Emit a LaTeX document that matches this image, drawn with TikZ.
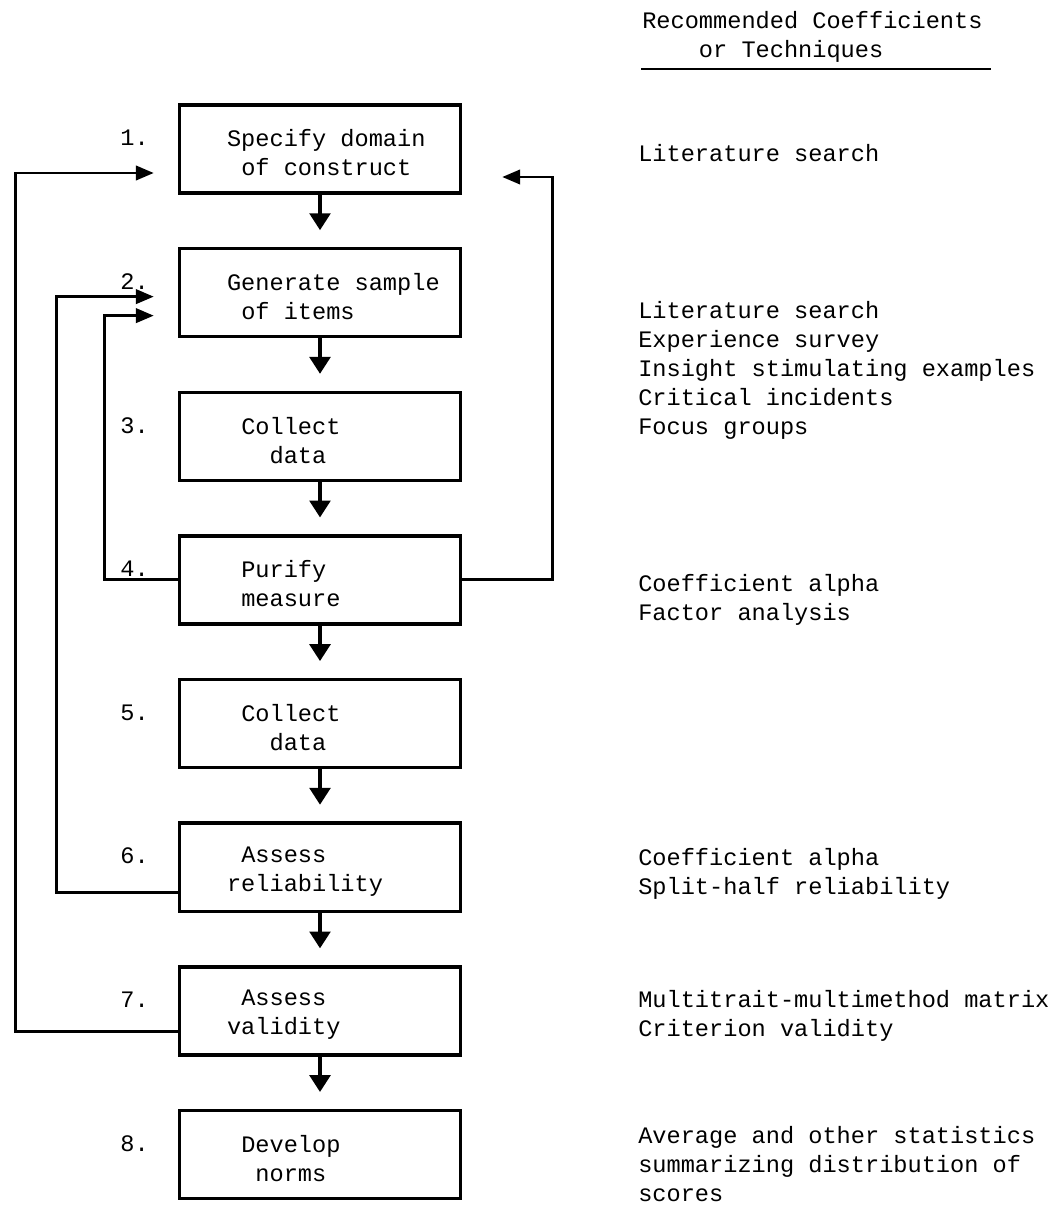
\documentclass[tikz,border=0pt]{standalone}
\usepackage{fontspec}
\setmonofont{Liberation Mono}
\usetikzlibrary{arrows.meta,calc}

\newcommand{\typefont}{\ttfamily\fontsize{16.8}{20.6}\selectfont}
\newcommand{\ind}{\hphantom{x}}

\tikzset{
  stepbox/.style={draw, line width=2.4pt, minimum width=7.025cm, minimum height=2.2cm, inner sep=0pt},
  steptext/.style={font=\typefont, align=left, anchor=west, inner sep=0pt, xshift=1.225cm, yshift=-0.1cm},
  stepnum/.style={font=\typefont, anchor=east, inner sep=0pt, xshift=-0.72cm, yshift=0.275cm},
  techtext/.style={font=\typefont, align=left, anchor=west, inner sep=0pt},
  flow/.style={line width=2.2pt, -{Triangle[width=0.52cm,length=0.42cm]}, shorten >=0.42cm},
  fbline/.style={line width=2.1pt, -{Triangle[width=0.36cm,length=0.45cm]}}
}

\begin{document}
\begin{tikzpicture}[x=0.025cm, y=-0.025cm, node distance=3.59cm]
  \useasboundingbox (0,0) rectangle (1053,1208);

  % the eight steps
  \node [stepbox] (b1) at (320,149) {};
  \node [stepbox, below of=b1] (b2) {};
  \node [stepbox, below of=b2] (b3) {};
  \node [stepbox, below of=b3] (b4) {};
  \node [stepbox, below of=b4] (b5) {};
  \node [stepbox, below of=b5] (b6) {};
  \node [stepbox, below of=b6] (b7) {};
  \node [stepbox, below of=b7] (b8) {};

  \node [steptext] (t1) at (b1.west) {Specify domain\\\ind of construct};
  \node [steptext] (t2) at (b2.west) {Generate sample\\\ind of items};
  \node [steptext] (t3) at (b3.west) {\ind Collect\\\ind\ind\ind data};
  \node [steptext] (t4) at (b4.west) {\ind Purify\\\ind measure};
  \node [steptext] (t5) at (b5.west) {\ind Collect\\\ind\ind\ind data};
  \node [steptext] (t6) at (b6.west) {\ind Assess\\reliability};
  \node [steptext] (t7) at (b7.west) {\ind Assess\\validity};
  \node [steptext] (t8) at (b8.west) {\ind Develop\\\ind\ind norms};

  \foreach \i in {1,...,8}
    \node [stepnum] (n\i) at (b\i.west) {\i.};

  \foreach \a/\b in {b1/b2,b2/b3,b3/b4,b4/b5,b5/b6,b6/b7,b7/b8}
    \draw [flow] (\a) -- (\b);

  % loops back
  \draw [fbline] ($(b7.west)+(0,21)$) -- ++(-162,0) |- ($(b1.west)+(-24,24)$);
  \draw [fbline] ($(b6.west)+(0,25)$) -- ++(-121,0) |- ($(b2.west)+(-24,4)$);
  \draw [fbline] (b4.west) -- ++(-73,0) |- ($(b2.west)+(-24,23)$);
  \draw [fbline] (b4.east) -- ++(90,0) |- ($(b1.east)+(40,28)$);

  % right column
  \node [techtext] (hdr) at (642,37) {Recommended Coefficients\\\ind\ind\ind\ind or Techniques};
  \draw [line width=1.8pt] ($(hdr.south west)+(-1,6)$) -- ($(hdr.south east)+(8,6)$);

  \node [techtext] (r1) at (638,153) {Literature search};
  \node [techtext] (r2) at (638,370) {Literature search\\Experience survey\\Insight stimulating examples\\Critical incidents\\Focus groups};
  \node [techtext] (r4) at (638,600) {Coefficient alpha\\Factor analysis};
  \node [techtext] (r6) at (638,874) {Coefficient alpha\\Split-half reliability};
  \node [techtext] (r7) at (638,1016) {Multitrait-multimethod matrix\\Criterion validity};
  \node [techtext] (r8) at (638,1164) {Average and other statistics\\summarizing distribution of\\scores};
\end{tikzpicture}
\end{document}
